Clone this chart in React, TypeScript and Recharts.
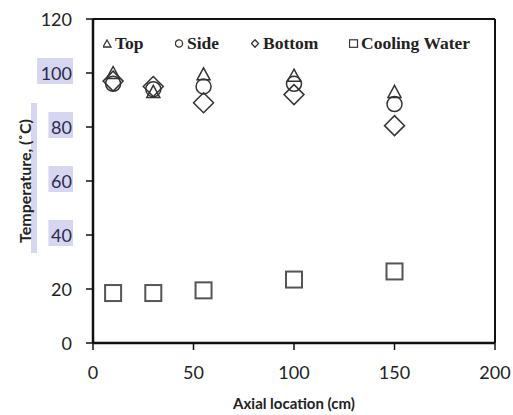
import React from 'react';
import {
  ScatterChart,
  Scatter,
  XAxis,
  YAxis,
  ReferenceLine,
  Legend,
} from 'recharts';

// Axial positions along the tube (cm)
const axialLocations = [10, 30, 55, 100, 150];

// Wall / water temperatures (°C)
const topTemps = [100, 93, 99.5, 99, 93];
const sideTemps = [96, 94, 95, 96, 88.5];
const bottomTemps = [97, 95, 89, 92, 80.5];
const coolingWaterTemps = [18.5, 18.5, 19.5, 23.5, 26.5];

const xTicks = [0, 50, 100, 150, 200];
const yTicks = [0, 20, 40, 60, 80, 100, 120];
const highlightedYTicks = [40, 60, 80, 100];

const seriesNames = ['Top', 'Side', 'Bottom', 'Cooling Water'];

const toPoints = (ys: number[]) => axialLocations.map((x, i) => ({ x, y: ys[i] }));

const MARK = '#333333';
const TICK_FONT = 'Lato, "Open Sans", sans-serif';

type ShapeProps = { cx?: number; cy?: number };

const Triangle = ({ cx = 0, cy = 0 }: ShapeProps) => (
  <path
    d={`M${cx},${cy - 6.5} L${cx + 6.5},${cy + 5.5} L${cx - 6.5},${cy + 5.5} Z`}
    fill="none"
    stroke={MARK}
    strokeWidth={1.5}
  />
);

const Circle = ({ cx = 0, cy = 0 }: ShapeProps) => (
  <circle cx={cx} cy={cy} r={7.5} fill="none" stroke={MARK} strokeWidth={1.5} />
);

const Diamond = ({ cx = 0, cy = 0 }: ShapeProps) => (
  <path
    d={`M${cx},${cy - 10} L${cx + 10},${cy} L${cx},${cy + 10} L${cx - 10},${cy} Z`}
    fill="none"
    stroke={MARK}
    strokeWidth={1.5}
  />
);

const Square = ({ cx = 0, cy = 0 }: ShapeProps) => (
  <rect x={cx - 8} y={cy - 8} width={16} height={16} fill="none" stroke="#555" strokeWidth={2} />
);

const YTick = (props: any) => {
  const { x, y, payload } = props;
  const label = String(payload.value);
  const lit = highlightedYTicks.includes(payload.value);
  const w = label.length * 11.3 + 2;
  return (
    <g>
      {lit && <rect x={x - w + 1} y={y - 15} width={w} height={26} fill="#d6d6f0" />}
      <text
        x={x}
        y={y}
        textAnchor="end"
        dominantBaseline="central"
        fontFamily={TICK_FONT}
        fontSize={18}
        fill={lit ? '#2a2a4e' : '#222'}
      >
        {label}
      </text>
    </g>
  );
};

const XTick = (props: any) => {
  const { x, y, payload } = props;
  return (
    <text
      x={x}
      y={y}
      textAnchor="middle"
      dominantBaseline="central"
      fontFamily={TICK_FONT}
      fontSize={18}
      fill="#222"
    >
      {payload.value}
    </text>
  );
};

const legendMarks = [
  <path key="t" d="M4,1 L8,8 L0,8 Z" fill="none" stroke={MARK} strokeWidth={1.3} />,
  <circle key="c" cx={4} cy={4.5} r={3.6} fill="none" stroke={MARK} strokeWidth={1.3} />,
  <path key="d" d="M4,0.8 L7.5,4.5 L4,8.2 L0.5,4.5 Z" fill="none" stroke={MARK} strokeWidth={1.3} />,
  <rect key="s" x={0.5} y={0.8} width={8} height={7.5} fill="none" stroke={MARK} strokeWidth={1.2} />,
];
const legendLeft = [103, 175, 251, 349];

const InsideLegend = () => (
  <div style={{ position: 'relative', width: 513, height: 0 }}>
    {seriesNames.map((name, i) => (
      <div
        key={name}
        style={{
          position: 'absolute',
          left: legendLeft[i],
          top: 33,
          display: 'flex',
          alignItems: 'center',
          fontFamily: '"Liberation Serif", "Times New Roman", serif',
          fontWeight: 'bold',
          fontSize: 17.5,
          color: '#222',
          whiteSpace: 'nowrap',
        }}
      >
        <svg width={10} height={10} style={{ marginRight: 2 }}>
          {legendMarks[i]}
        </svg>
        {name}
      </div>
    ))}
  </div>
);

export default function App() {
  return (
    <div style={{ position: 'absolute', left: 0, top: 0, width: 513, height: 415, background: '#fff' }}>
      {/* highlight strip behind the y-axis title */}
      <div
        style={{ position: 'absolute', left: 31, top: 103, width: 6, height: 150, background: '#d6d6f0' }}
      />
      <ScatterChart
        width={513}
        height={415}
        margin={{ top: 19, right: 18, bottom: 0, left: 0 }}
        style={{ position: 'relative' }}
      >
        <XAxis
          type="number"
          dataKey="x"
          domain={[0, 200]}
          ticks={xTicks}
          height={72}
          axisLine={{ stroke: '#111', strokeWidth: 2.5 }}
          tickLine={{ stroke: '#111', strokeWidth: 1.5 }}
          tickSize={7}
          tickMargin={22}
          tick={<XTick />}
          label={{
            value: 'Axial location (cm)',
            position: 'insideBottom',
            offset: 6,
            style: { fontFamily: TICK_FONT, fontWeight: 'bold', fontSize: 15, fill: '#222' },
          }}
        />
        <YAxis
          type="number"
          dataKey="y"
          domain={[0, 120]}
          ticks={yTicks}
          width={93}
          axisLine={{ stroke: '#111', strokeWidth: 2.5 }}
          tickLine={{ stroke: '#111', strokeWidth: 1.5 }}
          tickSize={7}
          tickMargin={14}
          tick={<YTick />}
          label={{
            value: 'Temperature, (˚C)',
            angle: -90,
            position: 'insideLeft',
            offset: 25,
            style: {
              textAnchor: 'middle',
              fontFamily: TICK_FONT,
              fontWeight: 'bold',
              fontSize: 16,
              fill: '#222',
            },
          }}
        />
        <ReferenceLine y={120} stroke="#111" strokeWidth={2} />
        <ReferenceLine x={200} stroke="#111" strokeWidth={2} />
        <Legend content={<InsideLegend />} wrapperStyle={{ top: 0, left: 0 }} />
        <Scatter name="Top" data={toPoints(topTemps)} shape={<Triangle />} isAnimationActive={false} />
        <Scatter name="Side" data={toPoints(sideTemps)} shape={<Circle />} isAnimationActive={false} />
        <Scatter name="Bottom" data={toPoints(bottomTemps)} shape={<Diamond />} isAnimationActive={false} />
        <Scatter
          name="Cooling Water"
          data={toPoints(coolingWaterTemps)}
          shape={<Square />}
          isAnimationActive={false}
        />
      </ScatterChart>
    </div>
  );
}
